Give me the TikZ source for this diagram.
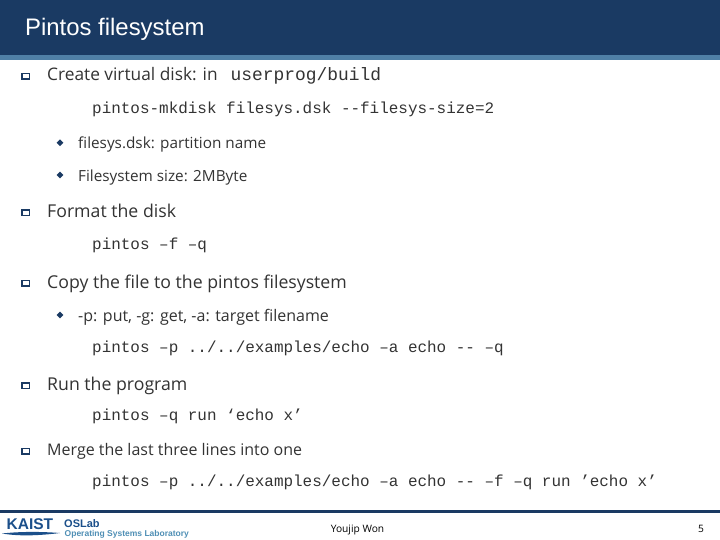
\documentclass[tikz,border=0pt]{standalone}
\usepackage{fontspec}
\setmainfont{Open Sans}
\setmonofont{Liberation Mono}
\newfontfamily\titlefont{Liberation Sans}
\usetikzlibrary{shapes.geometric}
\definecolor{headblue}{HTML}{1A3A63}
\definecolor{stripblue}{HTML}{4F7FA6}
\definecolor{logoblue}{HTML}{1B4F8A}
\definecolor{labblue}{HTML}{4F8FB5}
\tikzset{
    lineone/.style = {anchor=base west, inner sep=0, font=\fontsize{17.7}{18}\selectfont, text=black!80},
    linetwo/.style = {anchor=base west, inner sep=0, font=\fontsize{15.3}{16}\selectfont, text=black!80},
    codeline/.style = {anchor=base west, inner sep=0, font=\ttfamily\fontsize{15.95}{16}\selectfont, text=black!80},
    squarebullet/.style = {draw=headblue, line width=1.5pt, fill=white, minimum width=7.5pt, minimum height=5.5pt, inner sep=0},
    diamondbullet/.style = {diamond, fill=headblue, minimum size=7pt, inner sep=0}
}
\begin{document}
\begin{tikzpicture}%
            [x = 1pt, y = -1pt]
            \useasboundingbox (0,0) rectangle (720,540);
            \fill [white] (0,0) rectangle (720,540);
            \fill [headblue] (0,0) rectangle (720,55);
            \fill [stripblue] (0,55) rectangle (720,60);
            \node [anchor=base west, inner sep=0, text=white, font=\titlefont\fontsize{23.9}{24}\selectfont] (title) at (25,36) {Pintos filesystem};

            % first item
            \node [squarebullet] (bulletA) at (25.5,76.5) {};
            \node [lineone, font=\fontsize{17.3}{18}\selectfont] (create) at (47,81) {Create virtual disk: in};
            \node [lineone, font=\ttfamily\fontsize{17.9}{18}\selectfont] (build) at (230.5,81) {userprog/build};
            \node [codeline] (mkdisk) at (92,114) {pintos-mkdisk filesys.dsk --filesys-size=2};
            \node [diamondbullet] (bulletB) at (60,142.7) {};
            \node [linetwo] (partition) at (78,149) {filesys.dsk: partition name};
            \node [diamondbullet] (bulletC) at (60,175) {};
            \node [linetwo] (size) at (78,182) {Filesystem size: 2MByte};

            % format
            \node [squarebullet] (bulletD) at (25.5,213) {};
            \node [lineone] (format) at (47,218) {Format the disk};
            \node [codeline] (mkfs) at (92,249) {pintos –f –q};

            % copy
            \node [squarebullet] (bulletE) at (25.5,283) {};
            \node [lineone] (copy) at (47,288) {Copy the file to the pintos filesystem};
            \node [diamondbullet] (bulletF) at (60,315) {};
            \node [linetwo, font=\fontsize{16}{16}\selectfont] (options) at (78,321) {-p: put, -g: get, -a: target filename};
            \node [codeline] (put) at (92,352) {pintos –p ../../examples/echo –a echo -- –q};

            % run
            \node [squarebullet] (bulletG) at (25.5,385.5) {};
            \node [lineone] (run) at (47,390) {Run the program};
            \node [codeline] (runcmd) at (92,420) {pintos –q run ‘echo x’};

            % merge
            \node [squarebullet] (bulletH) at (25.5,451) {};
            \node [lineone, font=\fontsize{16}{16}\selectfont] (merge) at (47,455) {Merge the last three lines into one};
            \node [codeline] (mergecmd) at (92,486) {pintos –p ../../examples/echo –a echo -- –f –q run ’echo x’};

            % footer
            \fill [headblue] (0,510) rectangle (720,513);
            \node [anchor=base west, inner sep=0, text=logoblue, font=\titlefont\bfseries\fontsize{15.5}{15}\selectfont] (kaist) at (6.5,529.5) {KAIST};
            \fill [logoblue] (2,533.5) .. controls (20,531.5) and (40,531.5) .. (60,533) .. controls (40,535.5) and (20,536.5) .. (2,533.5);
            \node [anchor=base west, inner sep=0, text=logoblue, font=\titlefont\bfseries\fontsize{11}{11}\selectfont] (oslab) at (64,527) {OSLab};
            \node [anchor=base west, inner sep=0, text=labblue, font=\titlefont\bfseries\fontsize{8.5}{9}\selectfont] (lab) at (64.5,536) {Operating Systems Laboratory};
            \node [anchor=base, inner sep=0, text=black, font=\fontsize{10.2}{10}\selectfont] (author) at (357.5,532) {Youjip Won};
            \node [anchor=base, inner sep=0, text=black, font=\fontsize{10.2}{10}\selectfont] (page) at (701,532) {5};
\end{tikzpicture}
\end{document}
